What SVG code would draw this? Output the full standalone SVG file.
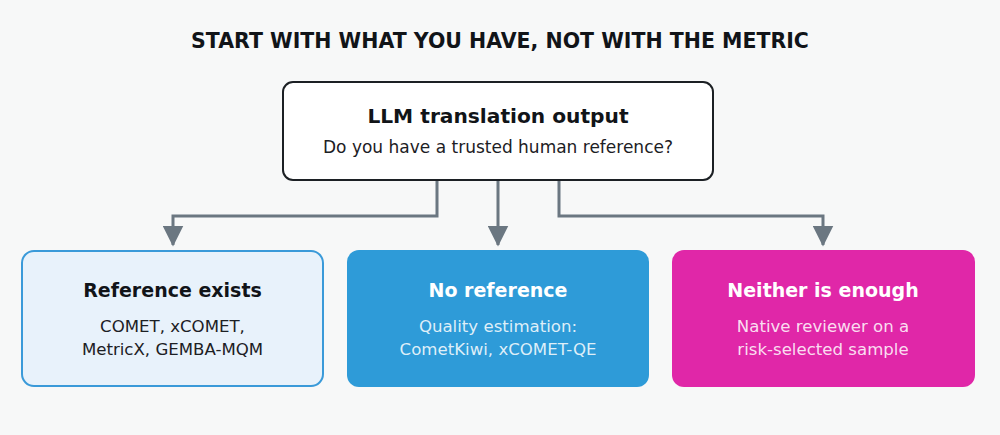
<svg xmlns="http://www.w3.org/2000/svg" width="1000" height="435" viewBox="0 0 1000 435">
  <defs>
    <marker id="arr" markerWidth="7" markerHeight="7" refX="6.5" refY="3.5" orient="auto" markerUnits="strokeWidth">
      <path d="M0,0 L7,3.5 L0,7 Z" fill="#6b7781"/>
    </marker>
    <style>
      text { font-family: "DejaVu Sans", "Liberation Sans", sans-serif; text-anchor: middle; }
      .title { font-size: 20.5px; font-weight: bold; fill: #111418; }
      .h { font-size: 19px; font-weight: bold; }
      .hr { font-size: 20.2px; font-weight: bold; }
      .s { font-size: 16.6px; }
      .sr { font-size: 17px; }
      .conn { fill: none; stroke: #6b7781; stroke-width: 3; }
    </style>
  </defs>
  <rect width="1000" height="435" fill="#f7f8f8"/>
  <text class="title" x="500" y="48">START WITH WHAT YOU HAVE, NOT WITH THE METRIC</text>

  <g id="connectors">
    <path class="conn" d="M437,181 V216 H173 V245" marker-end="url(#arr)"/>
    <path class="conn" d="M498,181 V245" marker-end="url(#arr)"/>
    <path class="conn" d="M559,181 V216 H823 V245" marker-end="url(#arr)"/>
  </g>

  <g id="root">
    <rect x="283" y="82" width="430" height="98" rx="10" fill="#ffffff" stroke="#1c2024" stroke-width="2"/>
    <text class="hr" x="498" y="123" fill="#111418">LLM translation output</text>
    <text class="sr" x="498" y="153" fill="#1c2024">Do you have a trusted human reference?</text>
  </g>

  <g id="reference-exists">
    <rect x="22" y="251" width="301" height="135" rx="12" fill="#e8f2fb" stroke="#3a9ad9" stroke-width="2"/>
    <text class="h" x="172.5" y="297" fill="#111418">Reference exists</text>
    <text class="s" x="172.5" y="332" fill="#1c2024">COMET, xCOMET,</text>
    <text class="s" x="172.5" y="355" fill="#1c2024">MetricX, GEMBA-MQM</text>
  </g>

  <g id="no-reference">
    <rect x="347" y="250" width="302" height="137" rx="12" fill="#2e9bd8"/>
    <text class="h" x="498" y="297" fill="#ffffff">No reference</text>
    <text class="s" x="498" y="332" fill="#ffffff" fill-opacity="0.85">Quality estimation:</text>
    <text class="s" x="498" y="355" fill="#ffffff" fill-opacity="0.85">CometKiwi, xCOMET-QE</text>
  </g>

  <g id="neither">
    <rect x="672" y="250" width="303" height="137" rx="12" fill="#e027a8"/>
    <text class="h" x="823" y="297" fill="#ffffff">Neither is enough</text>
    <text class="s" x="823" y="332" fill="#ffffff" fill-opacity="0.85">Native reviewer on a</text>
    <text class="s" x="823" y="355" fill="#ffffff" fill-opacity="0.85">risk-selected sample</text>
  </g>
</svg>
